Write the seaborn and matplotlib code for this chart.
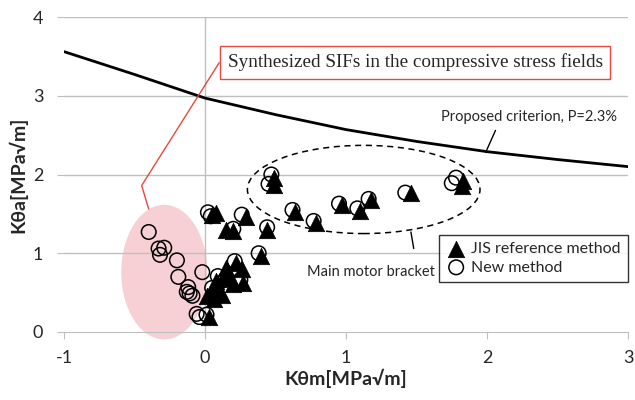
import matplotlib
matplotlib.use("Agg")
import matplotlib.pyplot as plt
from matplotlib.patches import Ellipse
import seaborn as sns

# criterion curve
crit_x = [-1, -0.5, 0, 0.5, 1, 1.5, 2, 2.5, 3]
crit_y = [3.56, 3.27, 2.97, 2.76, 2.57, 2.42, 2.29, 2.19, 2.10]

# JIS reference method (filled triangles)
jis_x = [0.05, 0.08, 0.15, 0.20, 0.29, 0.44, 0.49, 0.49, 0.40, 0.22, 0.26, 0.15,
         0.18, 0.13, 0.08, 0.20, 0.27, 0.08, 0.04, 0.01, 0.06, 0.12, 0.03,
         0.64, 0.79, 0.97, 1.10, 1.18, 1.46, 1.83, 1.82]
jis_y = [1.48, 1.51, 1.30, 1.28, 1.46, 1.30, 1.96, 1.87, 0.96, 0.87, 0.80, 0.81,
         0.70, 0.68, 0.65, 0.61, 0.62, 0.53, 0.49, 0.46, 0.42, 0.47, 0.19,
         1.52, 1.39, 1.61, 1.54, 1.67, 1.76, 1.92, 1.86]

# new method (open circles)
new_x = [-0.40, -0.33, -0.29, -0.32, -0.20, -0.19, -0.02, -0.12, -0.13, -0.09,
         -0.11, -0.06, -0.04,
         0.02, 0.04, 0.26, 0.44, 0.47, 0.45, 0.38, 0.21, 0.09, 0.14, 0.05, 0.25,
         0.20, 0.62, 0.77, 0.95, 1.08, 1.16, 1.42, 1.78, 1.75, 0.01]
new_y = [1.27, 1.06, 1.07, 0.98, 0.91, 0.70, 0.76, 0.57, 0.51, 0.46,
         0.49, 0.23, 0.19,
         1.52, 1.47, 1.49, 1.33, 2.00, 1.88, 1.00, 0.90, 0.71, 0.66, 0.56, 0.66,
         1.31, 1.55, 1.41, 1.63, 1.57, 1.69, 1.77, 1.96, 1.89, 0.22]

sns.set_style("white")
plt.rcParams['font.family'] = ['Lato', 'DejaVu Sans']
plt.rcParams['axes.unicode_minus'] = False

fig = plt.figure(figsize=(6.35, 4), dpi=100)
ax = fig.add_axes([0.101, 0.17, 0.888, 0.7875])

grid_c = '#bfbfbf'
for yv in [1, 2, 3, 4]:
    ax.axhline(yv, color=grid_c, lw=1, zorder=0.6)
ax.axvline(0, color=grid_c, lw=1, zorder=0.6)

# pink region
ax.add_patch(Ellipse((-0.29, 0.76), 0.61, 1.71, facecolor='#f6d0d4', edgecolor='none',
                     zorder=0.3, clip_on=False))
# dashed region
ax.add_patch(Ellipse((1.125, 1.81), 1.65, 1.12, facecolor='none', edgecolor='black',
                     lw=1.1, ls=(0, (4, 3)), zorder=2))

sns.lineplot(x=crit_x, y=crit_y, color='black', lw=2, ax=ax, zorder=3)

sns.scatterplot(x=jis_x, y=jis_y, marker='^', s=140, color='black', edgecolor='black',
                linewidth=0.5, ax=ax, zorder=4, label='JIS reference method')
sns.scatterplot(x=new_x, y=new_y, marker='o', s=110, facecolor='none', edgecolor='black',
                linewidth=1.1, ax=ax, zorder=5, label='New method')

# annotation box and leader
red = '#e8483f'
ax.text(1.49, 3.425, 'Synthesized SIFs in the compressive stress fields',
        family='Liberation Serif', fontsize=13.8, ha='center', va='center', zorder=6,
        bbox=dict(boxstyle='square,pad=0.4', facecolor='white', edgecolor=red, lw=1))
ax.plot([0.10, -0.45, -0.40], [3.42, 1.86, 1.56], color=red, lw=1, zorder=5.5, clip_on=False)

ax.text(1.67, 2.73, 'Proposed criterion, P=2.3%', fontsize=10.5, ha='left', va='center')
ax.plot([2.06, 1.99], [2.56, 2.28], color='black', lw=1)

ax.text(1.63, 0.76, 'Main motor bracket', fontsize=10.5, ha='right', va='center')
ax.plot([1.46, 1.48], [1.27, 1.06], color='black', lw=1)

leg = ax.legend(loc='upper right', bbox_to_anchor=(1.0, 0.308), frameon=True,
                fancybox=False, fontsize=11.5, handletextpad=0.3, handlelength=1.3,
                borderpad=0.45, labelspacing=0.25, borderaxespad=0)
leg.get_frame().set_edgecolor('black')
leg.get_frame().set_linewidth(1)

ax.set_xlim(-1, 3)
ax.set_ylim(0, 4)
ax.set_xticks([-1, 0, 1, 2, 3])
ax.set_yticks([0, 1, 2, 3, 4])
for s in ['top', 'right', 'left']:
    ax.spines[s].set_visible(False)
ax.spines['bottom'].set_color(grid_c)
ax.tick_params(axis='x', length=5, color=grid_c, labelsize=13, pad=8, direction='out')
ax.tick_params(axis='y', length=5, color=grid_c, labelsize=13, pad=10, direction='out')
ax.tick_params(bottom=True, left=True)
ax.set_xlabel('Kθm[MPa√m]', fontsize=14, fontweight='bold', labelpad=2)
ax.set_ylabel('Kθa[MPa√m]', fontsize=14, fontweight='bold', labelpad=4)

fig.savefig('out.png', dpi=100)
